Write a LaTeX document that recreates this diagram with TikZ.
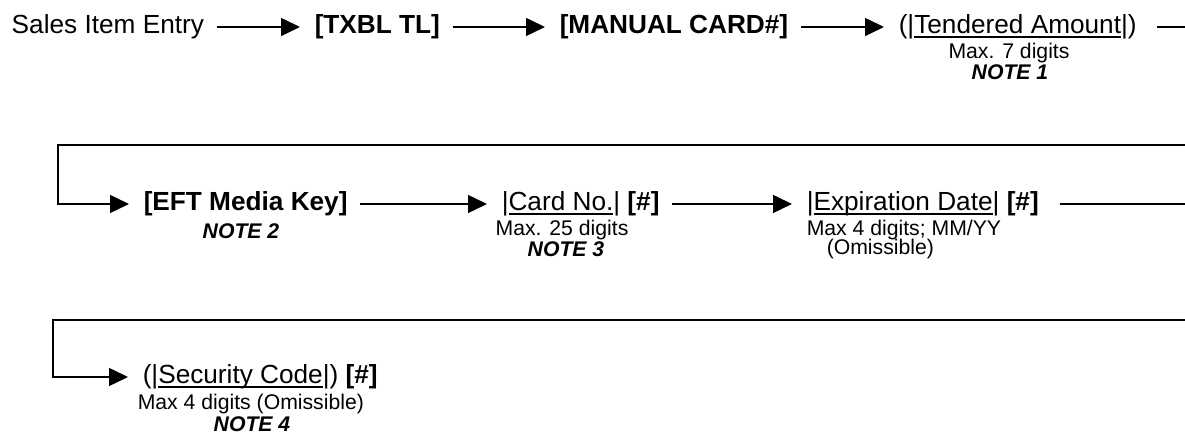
\documentclass[tikz,border=0pt]{standalone}
\usepackage{fontspec}
\setmainfont{Liberation Sans}
\usetikzlibrary{arrows.meta}
\newcommand{\keyline}[1]{\setbox0\hbox{#1}\rlap{\rule[-2pt]{\wd0}{0.7pt}}\box0}
\begin{document}
\begin{tikzpicture}[x=0.5pt, y=-0.5pt, line width=0.75pt,
    key/.style={inner sep=0pt, anchor=west, font=\fontsize{13.1}{15}\selectfont},
    hint/.style={inner sep=0pt, font=\fontsize{10.6}{12}\selectfont},
    note/.style={hint, font=\fontsize{10.6}{12}\selectfont\bfseries\itshape},
    flow/.style={-{Triangle[length=9.5pt, width=9pt]}, shorten <=6pt, shorten >=7pt},
    tail/.style={shorten <=10pt}]
    \useasboundingbox (0,0) rectangle (1185,437);
    \node[key] (sales) at (11,27) {Sales Item Entry};
    \node[key] (txbl) at (314,27) {\textbf{[TXBL TL]}};
    \node[key] (manual) at (559,27) {\textbf{[MANUAL CARD\#]}};
    \node[key] (tender) at (898,27) {(|\keyline{Tendered Amount}|)};
    \node[hint] (tenderhint) at (1009,53) {Max. 7 digits};
    \node[note] (note1) at (1010,72) {NOTE 1};
    \node[key] (eft) at (143,204) {\textbf{[EFT Media Key]}};
    \node[note] (note2) at (241,231) {NOTE 2};
    \node[key] (card) at (501,204) {|\keyline{Card No.}| \textbf{[\#]}};
    \node[hint] (cardhint) at (562,230) {Max. 25 digits};
    \node[note] (note3) at (566,249) {NOTE 3};
    \node[key] (expiry) at (806,204) {|\keyline{Expiration Date}| \textbf{[\#]}};
    \node[hint, anchor=west] (expiryhint) at (806,230) {Max 4 digits; MM/YY};
    \node[hint, anchor=west] (expiryomit) at (826,249) {(Omissible)};
    \node[key] (secur) at (142,377) {(|\keyline{Security Code}|) \textbf{[\#]}};
    \node[hint, anchor=west] (securhint) at (137,404) {Max 4 digits (Omissible)};
    \node[note] (note4) at (252,424) {NOTE 4};
    \coordinate (edge1) at (1185,27);
    \coordinate (wrap1) at (1185,145);
    \coordinate (bend1) at (58,145);
    \coordinate (edge2) at (1185,204);
    \coordinate (wrap2) at (1185,320);
    \coordinate (bend2) at (53,320);
    \draw[flow] (sales) -- (txbl);
    \draw[flow] (txbl) -- (manual);
    \draw[flow] (manual) -- (tender);
    \draw[tail] (tender) -- (edge1);
    \draw[flow, shorten <=0pt] (wrap1) -- (bend1) |- (eft);
    \draw[flow] (eft) -- (card);
    \draw[flow] (card) -- (expiry);
    \draw[tail] (expiry) -- (edge2);
    \draw[flow, shorten <=0pt] (wrap2) -- (bend2) |- (secur);
\end{tikzpicture}
\end{document}
